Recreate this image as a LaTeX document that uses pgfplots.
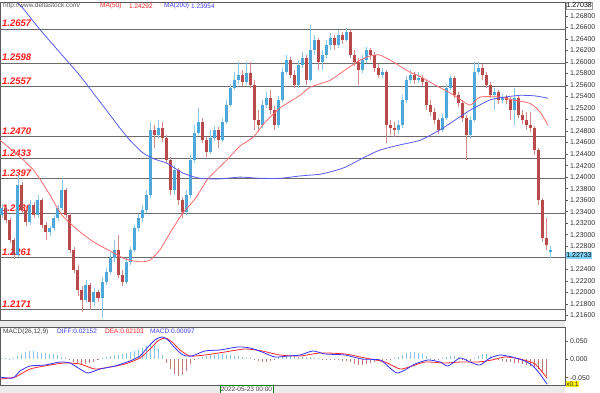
\documentclass[border=0pt]{standalone}
\usepackage{fontspec}
\setmainfont{Liberation Sans}
\usepackage{pgfplots}
\usepackage{pgfplotstable}
\pgfplotsset{compat=1.18}
\definecolor{upc}{HTML}{4FA8DA}
\definecolor{upw}{HTML}{8DC8EA}
\definecolor{dnc}{HTML}{B84A4C}
\definecolor{dnw}{HTML}{D38A8A}
\definecolor{lvl}{HTML}{6A6A6A}
\definecolor{lblred}{HTML}{FF1A1A}
\definecolor{ma50}{HTML}{FF6A6A}
\definecolor{ma200}{HTML}{5A5AF0}
\definecolor{frm}{HTML}{5A5A5A}
\definecolor{hpos}{HTML}{87C5E5}
\definecolor{hneg}{HTML}{C07A7A}
\definecolor{lastbox}{HTML}{7FD0F5}

\pgfplotstableread{
x o h l c
2 1.2334 1.2353 1.2329 1.2346
18 1.2265 1.2404 1.2261 1.2386
30 1.2322 1.2360 1.2317 1.2352
38 1.2334 1.2369 1.2329 1.2360
50 1.2305 1.2315 1.2298 1.2312
54 1.2312 1.2334 1.2306 1.2329
58 1.2329 1.2352 1.2324 1.2346
62 1.2346 1.2398 1.2343 1.2378
86 1.2187 1.2221 1.2182 1.2213
94 1.2183 1.2208 1.2176 1.2201
102 1.2190 1.2227 1.2156 1.2218
106 1.2218 1.2242 1.2213 1.2235
110 1.2235 1.2270 1.2230 1.2260
114 1.2260 1.2291 1.2253 1.2274
126 1.2218 1.2260 1.2215 1.2253
130 1.2253 1.2279 1.2247 1.2274
134 1.2274 1.2317 1.2270 1.2312
138 1.2312 1.2336 1.2306 1.2329
142 1.2329 1.2352 1.2322 1.2343
146 1.2343 1.2378 1.2338 1.2369
150 1.2369 1.2495 1.2364 1.2482
158 1.2473 1.2499 1.2468 1.2485
174 1.2378 1.2421 1.2369 1.2412
186 1.2339 1.2378 1.2334 1.2369
190 1.2369 1.2438 1.2364 1.2430
194 1.2430 1.2490 1.2424 1.2476
198 1.2476 1.2520 1.2473 1.2495
210 1.2443 1.2482 1.2440 1.2468
214 1.2468 1.2489 1.2463 1.2482
222 1.2464 1.2502 1.2461 1.2495
226 1.2495 1.2534 1.2492 1.2525
230 1.2525 1.2561 1.2521 1.2554
234 1.2554 1.2582 1.2551 1.2568
238 1.2568 1.2599 1.2561 1.2577
246 1.2565 1.2599 1.2560 1.2580
262 1.2490 1.2534 1.2485 1.2525
266 1.2525 1.2547 1.2520 1.2537
278 1.2490 1.2541 1.2485 1.2534
282 1.2534 1.2589 1.2530 1.2582
286 1.2582 1.2612 1.2577 1.2603
298 1.2560 1.2603 1.2554 1.2594
302 1.2594 1.2617 1.2589 1.2606
310 1.2568 1.2664 1.2565 1.2620
314 1.2620 1.2646 1.2612 1.2638
322 1.2599 1.2620 1.2586 1.2612
326 1.2612 1.2638 1.2606 1.2629
330 1.2629 1.2650 1.2620 1.2641
338 1.2629 1.2655 1.2624 1.2646
346 1.2638 1.2658 1.2634 1.2652
362 1.2586 1.2612 1.2580 1.2603
366 1.2603 1.2626 1.2598 1.2620
382 1.2577 1.2589 1.2572 1.2582
398 1.2482 1.2499 1.2475 1.2490
402 1.2490 1.2542 1.2485 1.2534
406 1.2534 1.2575 1.2528 1.2568
410 1.2568 1.2586 1.2563 1.2577
418 1.2568 1.2582 1.2563 1.2572
442 1.2482 1.2509 1.2478 1.2502
446 1.2502 1.2561 1.2499 1.2554
450 1.2554 1.2577 1.2551 1.2572
470 1.2473 1.2506 1.2468 1.2499
474 1.2499 1.2599 1.2495 1.2582
478 1.2582 1.2599 1.2577 1.2589
494 1.2542 1.2554 1.2516 1.2547
502 1.2534 1.2544 1.2528 1.2539
514 1.2516 1.2554 1.2490 1.2537
550 1.2270 1.2280 1.2260 1.22733
}\upT

\pgfplotstableread{
x o h l c
6 1.2346 1.2352 1.2320 1.2326
10 1.2326 1.2329 1.2286 1.2291
14 1.2291 1.2294 1.2258 1.2265
22 1.2386 1.2391 1.2338 1.2343
26 1.2343 1.2348 1.2315 1.2322
34 1.2352 1.2357 1.2329 1.2334
42 1.2360 1.2364 1.2312 1.2317
46 1.2317 1.2322 1.2291 1.2305
66 1.2378 1.2381 1.2329 1.2334
70 1.2334 1.2338 1.2268 1.2274
74 1.2274 1.2279 1.2234 1.2239
78 1.2239 1.2247 1.2194 1.2204
82 1.2204 1.2211 1.2166 1.2187
90 1.2213 1.2216 1.2169 1.2183
98 1.2201 1.2204 1.2183 1.2190
118 1.2274 1.2300 1.2225 1.2230
122 1.2230 1.2239 1.2211 1.2218
154 1.2482 1.2490 1.2450 1.2473
162 1.2485 1.2495 1.2461 1.2468
166 1.2468 1.2473 1.2424 1.2430
170 1.2430 1.2435 1.2369 1.2378
178 1.2412 1.2416 1.2352 1.2360
182 1.2360 1.2365 1.2329 1.2339
202 1.2495 1.2502 1.2459 1.2464
206 1.2464 1.2469 1.2435 1.2443
218 1.2482 1.2487 1.2450 1.2464
242 1.2577 1.2586 1.2558 1.2565
250 1.2580 1.2599 1.2554 1.2560
254 1.2560 1.2568 1.2482 1.2499
258 1.2499 1.2516 1.2478 1.2490
270 1.2537 1.2551 1.2509 1.2516
274 1.2516 1.2523 1.2482 1.2490
290 1.2603 1.2608 1.2572 1.2577
294 1.2577 1.2586 1.2554 1.2560
306 1.2606 1.2612 1.2560 1.2568
318 1.2638 1.2641 1.2586 1.2599
334 1.2641 1.2646 1.2620 1.2629
342 1.2646 1.2652 1.2631 1.2638
350 1.2652 1.2655 1.2606 1.2612
354 1.2612 1.2620 1.2593 1.2599
358 1.2599 1.2606 1.2560 1.2586
370 1.2620 1.2624 1.2603 1.2612
374 1.2612 1.2617 1.2582 1.2589
378 1.2589 1.2596 1.2572 1.2577
386 1.2582 1.2586 1.2459 1.2490
390 1.2490 1.2499 1.2473 1.2485
394 1.2485 1.2495 1.2469 1.2482
414 1.2577 1.2582 1.2561 1.2568
422 1.2572 1.2577 1.2558 1.2565
426 1.2565 1.2568 1.2516 1.2525
430 1.2525 1.2534 1.2506 1.2513
434 1.2513 1.2520 1.2492 1.2499
438 1.2499 1.2502 1.2475 1.2482
454 1.2572 1.2575 1.2537 1.2542
458 1.2542 1.2547 1.2521 1.2528
462 1.2528 1.2534 1.2495 1.2502
466 1.2502 1.2508 1.2430 1.2473
482 1.2589 1.2596 1.2568 1.2577
486 1.2577 1.2582 1.2554 1.2560
490 1.2560 1.2565 1.2537 1.2542
498 1.2547 1.2551 1.2527 1.2534
506 1.2539 1.2542 1.2527 1.2534
510 1.2534 1.2539 1.2499 1.2516
518 1.2537 1.2542 1.2502 1.2508
522 1.2508 1.2516 1.2492 1.2499
526 1.2499 1.2513 1.2482 1.2490
530 1.2490 1.2513 1.2478 1.2485
534 1.2485 1.2489 1.2438 1.2447
538 1.2447 1.2450 1.2352 1.2360
542 1.2360 1.2364 1.2287 1.2294
546 1.2294 1.2329 1.2274 1.2282
}\dnT

\begin{document}
\begin{tikzpicture}
\path[use as bounding box] (0pt,0pt) rectangle (600pt,393pt);
\fill[black!8] (0pt,0pt) rectangle (565pt,8pt);
\fill[black!8] (0pt,66pt) rectangle (565pt,73pt);

\begin{axis}[at={(0pt,73pt)}, anchor=south west, scale only axis,
  width=565pt, height=318pt,
  xmin=0, xmax=565, ymin=1.2152, ymax=1.2704,
  xtick=\empty, ytick={1.216,1.218,1.220,1.222,1.224,1.228,1.230,1.232,1.234,1.236,1.238,1.240,1.242,1.244,1.246,1.248,1.250,1.252,1.254,1.256,1.258,1.260,1.262,1.264,1.266,1.268},
  ytick pos=right, yticklabel pos=right, tick align=outside,
  major tick length=3pt, scaled y ticks=false,
  yticklabel style={/pgf/number format/.cd, fixed, fixed zerofill, precision=5, assume math mode=true, /tikz/.cd, font=\fontsize{7}{8}\selectfont, text=black!80, xshift=-1.5pt},
  axis line style={draw=frm, line width=0.8pt},
  ytick style={draw=frm, line width=0.5pt},
  clip mode=individual]

\pgfplotsinvokeforeach{1.2657,1.2598,1.2557,1.2470,1.2433,1.2397,1.2336,1.2261,1.2171}{
  \addplot[lvl, line width=1pt, forget plot] coordinates {(0,#1) (565,#1)};
  \node[anchor=south west, inner sep=0pt, yshift=1.8pt, text=lblred, font=\fontsize{9.5}{10}\selectfont\bfseries\itshape] at (axis cs:2,#1) {#1};
}

\addplot[dnw, line width=0.8pt, line cap=butt, quiver={u=0, v=\thisrow{h}-\thisrow{l}}]
  table[x=x, y=l] {\dnT};
\addplot[dnc, line width=3pt, line cap=butt, quiver={u=0, v=\thisrow{o}-\thisrow{c}}]
  table[x=x, y=c] {\dnT};
\addplot[upw, line width=0.8pt, line cap=butt, quiver={u=0, v=\thisrow{h}-\thisrow{l}}]
  table[x=x, y=l] {\upT};
\addplot[upc, line width=3pt, line cap=butt, quiver={u=0, v=\thisrow{c}-\thisrow{o}}]
  table[x=x, y=o] {\upT};

\addplot[ma50, line width=0.8pt, smooth, tension=0.4] coordinates {
(0,1.2464) (20,1.2435) (35,1.2409) (50,1.2369) (62,1.2334) (80,1.2305) (95,1.2286) (110,1.2272) (125,1.2258) (140,1.2253) (150,1.2256) (160,1.2274) (170,1.2303) (183,1.2338) (195,1.2362) (207,1.2395) (217,1.2413) (227,1.2430) (240,1.2454) (253,1.2469) (265,1.2495) (280,1.2520) (300,1.2542) (310,1.2556) (330,1.2568) (345,1.2586) (360,1.2603) (370,1.2610) (380,1.2612) (395,1.2598) (410,1.2582) (420,1.2575) (435,1.2560) (445,1.2551) (455,1.2541) (470,1.2525) (480,1.2539) (500,1.2539) (510,1.2535) (530,1.2528) (540,1.2513) (548,1.2490)};

\addplot[ma200, line width=0.8pt, smooth, tension=0.4] coordinates {
(17,1.2703) (23,1.2693) (40,1.2656) (60,1.2616) (80,1.2576) (95,1.2542) (110,1.2508) (120,1.2485) (130,1.2464) (143,1.2442) (155,1.2431) (167,1.2424) (183,1.2407) (200,1.2398) (220,1.2397) (240,1.2400) (260,1.2398) (280,1.2398) (300,1.2402) (320,1.2405) (330,1.2409) (345,1.2417) (365,1.2435) (380,1.2447) (400,1.2456) (420,1.2464) (440,1.2482) (455,1.2499) (470,1.2516) (490,1.2534) (505,1.2539) (520,1.2542) (535,1.2541) (548,1.2537)};

\node[anchor=west, draw=black!40, fill=white, inner sep=0.8pt, font=\fontsize{7}{8}\selectfont] at (axis cs:565.5,1.2698) {1.27038};
\node[anchor=west, fill=lastbox, inner sep=0.6pt, font=\fontsize{7}{8}\selectfont] at (axis cs:565.5,1.2264) {1.22733};
\end{axis}

\begin{axis}[at={(0pt,8pt)}, anchor=south west, scale only axis,
  width=565pt, height=58pt,
  xmin=0, xmax=565, ymin=-0.070, ymax=0.088,
  xtick=\empty, ytick={-0.05,0,0.05},
  ytick pos=right, yticklabel pos=right, tick align=outside,
  major tick length=3pt, scaled y ticks=false,
  yticklabel style={/pgf/number format/.cd, fixed, fixed zerofill, precision=3, assume math mode=true, /tikz/.cd, font=\fontsize{7}{8}\selectfont, text=black!80, xshift=-1.5pt},
  axis line style={draw=frm, line width=0.8pt},
  ytick style={draw=frm, line width=0.5pt},
  clip mode=individual]

\addplot[ycomb, hpos, line width=1pt, mark=none] coordinates {
(2,0.0027) (6,0.0027) (10,0.0014) (14,0.0027) (18,0.0082) (22,0.0137) (26,0.0191) (30,0.0219) (34,0.0219) (38,0.0191) (42,0.0164) (46,0.0164) (50,0.0137) (54,0.0137) (58,0.0109) (62,0.0055) (66,0.0027)
(102,0.0027) (106,0.0055) (110,0.0082) (114,0.0109) (118,0.0109) (122,0.0137) (126,0.0164) (130,0.0191) (134,0.0219) (138,0.0246) (142,0.0301) (146,0.0355) (150,0.0410) (154,0.0382) (158,0.0273) (162,0.0109)
(198,0.0027) (202,0.0055) (206,0.0082) (210,0.0109) (214,0.0109) (218,0.0137) (222,0.0137) (226,0.0109) (230,0.0109) (234,0.0082) (238,0.0082) (242,0.0055) (246,0.0027) (250,0.0027)
(278,0.0055) (282,0.0082) (286,0.0109) (290,0.0109) (294,0.0082) (298,0.0055) (302,0.0055) (306,0.0055) (310,0.0055) (314,0.0027) (318,0.0027)
(394,0.0027) (398,0.0055) (402,0.0109) (406,0.0164) (410,0.0191) (414,0.0191) (418,0.0164) (422,0.0137) (426,0.0082) (430,0.0027)
(442,0.0027) (446,0.0055) (450,0.0082) (454,0.0082) (458,0.0055)
(474,0.0027) (478,0.0082) (482,0.0137) (486,0.0137) (490,0.0082) (494,0.0027)};

\addplot[ycomb, hneg, line width=1pt, mark=none] coordinates {
(70,-0.0027) (74,-0.0082) (78,-0.0109) (82,-0.0137) (86,-0.0137) (90,-0.0109) (94,-0.0082) (98,-0.0027)
(166,-0.0109) (170,-0.0273) (174,-0.0410) (178,-0.0464) (182,-0.0437) (186,-0.0328) (190,-0.0137) (194,-0.0027)
(254,-0.0027) (258,-0.0055) (262,-0.0082) (266,-0.0082) (270,-0.0055) (274,-0.0027)
(322,-0.0027) (326,-0.0027) (330,-0.0027) (334,-0.0027) (338,-0.0027) (342,-0.0055) (346,-0.0055) (350,-0.0082) (354,-0.0137) (358,-0.0164) (362,-0.0164) (366,-0.0137) (370,-0.0109) (374,-0.0082) (378,-0.0055) (382,-0.0055) (386,-0.0027) (390,-0.0027)
(434,-0.0027) (438,-0.0027)
(462,-0.0027) (466,-0.0055) (470,-0.0055)
(498,-0.0027) (502,-0.0055) (506,-0.0082) (510,-0.0082) (514,-0.0109) (518,-0.0109) (522,-0.0137) (526,-0.0164) (530,-0.0191) (534,-0.0219) (538,-0.0273) (542,-0.0355) (546,-0.0464)};

\addplot[red!85, line width=0.8pt, smooth, tension=0.4] coordinates {
(0,-0.0538) (15,-0.0484) (30,-0.0265) (50,-0.0156) (65,-0.0101) (80,-0.0128) (95,-0.0265) (110,-0.0210) (125,-0.0128) (140,0.0036) (150,0.0281) (158,0.0500) (165,0.0582) (172,0.0473) (180,0.0254) (190,0.0090) (205,0.0117) (225,0.0199) (245,0.0281) (262,0.0227) (280,0.0117) (300,0.0090) (320,0.0172) (345,0.0145) (365,0.0036) (385,-0.0074) (400,-0.0265) (412,-0.0183) (425,-0.0074) (445,-0.0101) (460,-0.0074) (478,-0.0074) (492,-0.0019) (505,0.0063) (520,0.0008) (535,-0.0128) (547,-0.0511)};

\addplot[blue!80, line width=0.8pt, smooth, tension=0.4] coordinates {
(0,-0.0484) (13,-0.0511) (20,-0.0320) (30,-0.0183) (45,-0.0156) (60,-0.0074) (70,-0.0101) (80,-0.0265) (88,-0.0374) (100,-0.0265) (115,-0.0183) (130,-0.0046) (140,0.0090) (148,0.0336) (155,0.0527) (162,0.0609) (168,0.0527) (175,0.0309) (183,0.0117) (192,0.0090) (205,0.0227) (220,0.0254) (238,0.0336) (250,0.0309) (262,0.0199) (275,0.0063) (288,0.0090) (300,0.0117) (313,0.0227) (325,0.0145) (345,0.0117) (362,0.0008) (380,-0.0019) (390,-0.0238) (397,-0.0374) (405,-0.0292) (415,-0.0128) (428,-0.0019) (440,-0.0074) (448,-0.0183) (460,0.0036) (470,-0.0074) (480,-0.0156) (490,0.0036) (500,0.0117) (512,0.0063) (525,-0.0046) (533,-0.0183) (540,-0.0402) (547,-0.0675)};
\end{axis}

\node[anchor=west, inner sep=0pt, text=black!65, font=\fontsize{6.5}{7}\selectfont] at (3pt,387pt) {http://www.deltastock.com/};
\node[anchor=west, inner sep=0pt, text=red!85, font=\fontsize{6.5}{7}\selectfont] at (100pt,387pt) {MA(50)};
\node[anchor=west, inner sep=0pt, text=red!85, font=\fontsize{6.5}{7}\selectfont] at (129pt,387pt) {1.24292};
\node[anchor=west, inner sep=0pt, text=blue!75, font=\fontsize{6.5}{7}\selectfont] at (164pt,387pt) {MA(200)};
\node[anchor=west, inner sep=0pt, text=blue!75, font=\fontsize{6.5}{7}\selectfont] at (191pt,387pt) {1.23954};

\node[anchor=west, inner sep=0pt, text=black!75, font=\fontsize{6.5}{7}\selectfont] at (3pt,61.5pt) {MACD(26,12,9)};
\node[anchor=west, inner sep=0pt, text=blue!75, font=\fontsize{6.5}{7}\selectfont] at (57pt,61.5pt) {DIFF:0.02152};
\node[anchor=west, inner sep=0pt, text=red!85, font=\fontsize{6.5}{7}\selectfont] at (105pt,61.5pt) {DEA:0.02103};
\node[anchor=west, inner sep=0pt, text=blue!75, font=\fontsize{6.5}{7}\selectfont] at (150pt,61.5pt) {MACD:0.00097};

\node[anchor=south west, draw=green!50!black, fill=white, inner sep=0.6pt, minimum height=8pt, text=black!75, font=\fontsize{6.5}{7}\selectfont] at (220pt,0pt) {2022-05-23 00:00};
\node[anchor=south west, fill=yellow, inner sep=0.6pt, text=black!80, font=\fontsize{6.5}{7}\selectfont] at (565.5pt,6pt) {x0.1};
\end{tikzpicture}
\end{document}
